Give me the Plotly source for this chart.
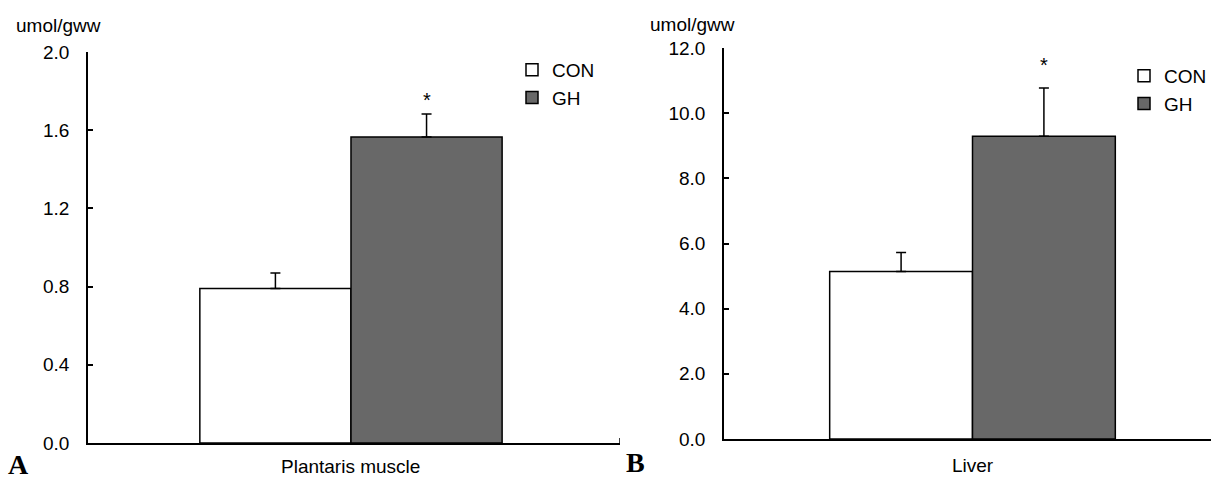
import plotly.graph_objects as go

groups = ["CON", "GH"]
muscle_means = [0.79, 1.565]
muscle_se = [0.08, 0.118]
liver_means = [5.14, 9.29]
liver_se = [0.58, 1.48]
bar_pos = [-0.5, 0.5]
colors = ["#ffffff", "#686868"]

FONT = "Liberation Sans, Arial, sans-serif"
SERIF = "Liberation Serif, Times New Roman, serif"
W, H = 1211, 479


def px(x):
    return x / W


def py(y):
    return 1 - y / H


fig = go.Figure()

for i, g in enumerate(groups):
    fig.add_trace(go.Bar(
        x=[bar_pos[i]], y=[muscle_means[i]], width=1, name=g,
        marker=dict(color=colors[i], line=dict(color="black", width=1.5)),
        error_y=dict(type="data", symmetric=False, array=[muscle_se[i]], arrayminus=[0],
                     color="black", thickness=1.5, width=5),
        xaxis="x", yaxis="y", legend="legend", showlegend=True))
for i, g in enumerate(groups):
    fig.add_trace(go.Bar(
        x=[bar_pos[i]], y=[liver_means[i]], width=1, name=g,
        marker=dict(color=colors[i], line=dict(color="black", width=1.5)),
        error_y=dict(type="data", symmetric=False, array=[liver_se[i]], arrayminus=[0],
                     color="black", thickness=1.5, width=5),
        xaxis="x2", yaxis="y2", legend="legend2", showlegend=True))

yax = dict(showgrid=False, zeroline=False, showline=True, linecolor="black", linewidth=1.5,
           ticks="inside", ticklen=5, tickwidth=1.5, tickcolor="black", automargin=False,
           tickfont=dict(family=FONT, size=19, color="black"), ticklabelstandoff=13)
xax = dict(showgrid=False, zeroline=False, showline=True, linecolor="black", linewidth=1.5,
           showticklabels=False, ticks="", automargin=False)

fig.update_layout(
    width=W, height=H, margin=dict(l=0, r=0, t=0, b=0, autoexpand=False),
    paper_bgcolor="white", plot_bgcolor="white", barmode="overlay",
    font=dict(family=FONT, size=19, color="black"),
    xaxis=dict(domain=[px(88), px(620)], range=[-1.74, 1.78], **xax),
    yaxis=dict(domain=[py(443), py(52)], range=[0, 2.0], tickvals=[0, 0.4, 0.8, 1.2, 1.6, 2.0],
               ticktext=["0.0", "0.4", "0.8", "1.2", "1.6", "2.0"], anchor="x", **yax),
    xaxis2=dict(domain=[px(724), 1.0], range=[-1.74, 1.67], anchor="y2", **xax),
    yaxis2=dict(domain=[py(439), py(48)], range=[0, 12.0], tickvals=[0, 2, 4, 6, 8, 10, 12],
                ticktext=["0.0", "2.0", "4.0", "6.0", "8.0", "10.0", "12.0"], anchor="x2", **yax),
    legend=dict(x=px(512), y=py(51), xref="container", yref="container",
                xanchor="left", yanchor="top", bgcolor="rgba(0,0,0,0)",
                font=dict(family=FONT, size=19), itemwidth=30, tracegroupgap=0),
    legend2=dict(x=px(1124), y=py(57), xref="container", yref="container",
                 xanchor="left", yanchor="top", bgcolor="rgba(0,0,0,0)",
                 font=dict(family=FONT, size=19), itemwidth=30, tracegroupgap=0),
)

# right-end tick on left x axis
fig.add_shape(type="line", xref="x", yref="y", x0=1.78, x1=1.78, y0=0, y1=0.025,
              line=dict(color="black", width=1.5))

ann = [
    dict(text="umol/gww", xref="paper", yref="paper", x=px(14), y=py(25), xanchor="left",
         yanchor="middle", showarrow=False, font=dict(family=FONT, size=19)),
    dict(text="umol/gww", xref="paper", yref="paper", x=px(648), y=py(24), xanchor="left",
         yanchor="middle", showarrow=False, font=dict(family=FONT, size=19)),
    dict(text="Plantaris muscle", xref="x", yref="paper", x=0.0, y=py(466), xanchor="center",
         yanchor="middle", showarrow=False, font=dict(family=FONT, size=19)),
    dict(text="Liver", xref="x2", yref="paper", x=0.0, y=py(465), xanchor="center",
         yanchor="middle", showarrow=False, font=dict(family=FONT, size=19)),
    dict(text="<b>A</b>", xref="paper", yref="paper", x=px(6), y=py(464), xanchor="left",
         yanchor="middle", showarrow=False, font=dict(family=SERIF, size=28)),
    dict(text="<b>B</b>", xref="paper", yref="paper", x=px(624), y=py(462), xanchor="left",
         yanchor="middle", showarrow=False, font=dict(family=SERIF, size=28)),
    dict(text="*", xref="x", yref="y", x=0.5, y=muscle_means[1] + muscle_se[1], yshift=14,
         xanchor="center", yanchor="middle", showarrow=False, font=dict(family=FONT, size=20)),
    dict(text="*", xref="x2", yref="y2", x=0.5, y=liver_means[1] + liver_se[1], yshift=23,
         xanchor="center", yanchor="middle", showarrow=False, font=dict(family=FONT, size=20)),
]
fig.update_layout(annotations=ann)

fig.write_html("out.html")
